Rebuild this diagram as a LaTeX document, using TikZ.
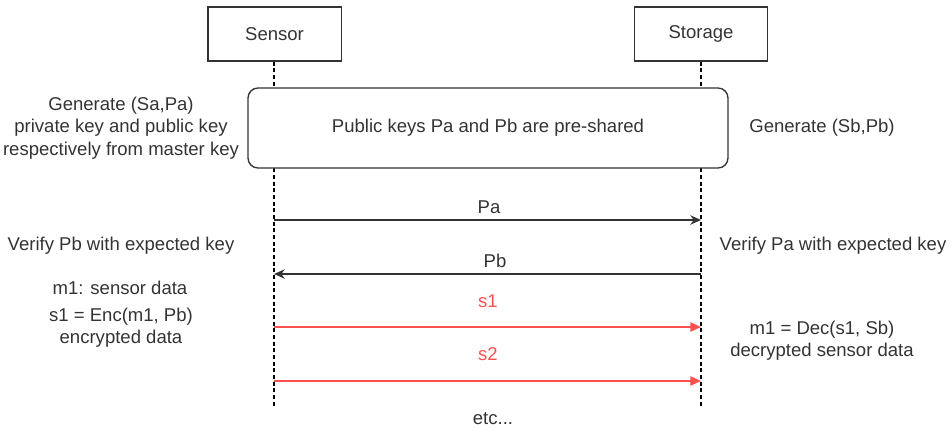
\documentclass[tikz,border=0pt]{standalone}
\usepackage{fontspec}
\setmainfont{Liberation Sans}
\usetikzlibrary{arrows.meta}
\definecolor{ink}{RGB}{51,51,51}
\definecolor{msgred}{RGB}{255,80,80}
\begin{document}
\begin{tikzpicture}[x=0.75pt,y=-0.75pt,
  font=\fontsize{13.9pt}{16.7pt}\selectfont, text=ink,
  actor/.style={draw=ink, line width=1pt, minimum width=100pt, minimum height=40.5pt, inner sep=0pt},
  lifeline/.style={draw=black, line width=0.8pt, dash pattern=on 3pt off 2pt},
  note/.style={align=center, inner sep=0pt},
  msg/.style={draw=ink, line width=1.1pt, -{Stealth[length=8pt,width=7pt,inset=2.5pt]}},
  redmsg/.style={draw=msgred, line width=1.1pt, -{Triangle[length=8pt,width=7pt]}},
  redlabel/.style={text=msgred, inner sep=0pt}]
  \useasboundingbox (0,0) rectangle (952,433);

  % participants
  \node[actor] (sensor) at (274.5,34) {Sensor};
  \node[actor] (storage) at (701,34) {Storage};

  % lifelines
  \coordinate (sensorEnd) at (274,408);
  \coordinate (storageEnd) at (701,408);
  \draw[lifeline] (sensor.south -| sensorEnd) -- (sensorEnd);
  \draw[lifeline] (storage.south -| storageEnd) -- (storageEnd);

  % shared-key frame
  \node[draw=ink, line width=1pt, fill=white, rounded corners=7.5pt,
        minimum width=360pt, minimum height=60pt, inner sep=0pt]
        (shared) at (488,128) {Public keys Pa and Pb are pre-shared};

  % key generation notes
  \node[note] (genA) at (121,128) {Generate (Sa,Pa)\\private key and public key\\respectively from master key};
  \node[note] (genB) at (822,128) {Generate (Sb,Pb)};

  % key exchange
  \coordinate (paS) at (274,220);
  \coordinate (paT) at (701,220);
  \draw[msg] (paS) -- (paT);
  \node[inner sep=0pt] (paLbl) at (489,207) {Pa};

  \coordinate (pbS) at (701,274);
  \coordinate (pbT) at (274,274);
  \draw[msg] (pbS) -- (pbT);
  \node[inner sep=0pt] (pbLbl) at (495,261) {Pb};

  \node[note] (verB) at (121,246) {Verify Pb with expected key};
  \node[note] (verA) at (833,246) {Verify Pa with expected key};

  % encrypted data
  \node[note] (m1) at (120,288) {m1: sensor data};
  \node[note] (enc) at (121,328) {s1 = Enc(m1, Pb)\\encrypted data};
  \node[note] (dec) at (822,341) {m1 = Dec(s1, Sb)\\decrypted sensor data};

  \coordinate (s1S) at (274,327);
  \coordinate (s1T) at (701,327);
  \draw[redmsg] (s1S) -- (s1T);
  \node[redlabel] (s1Lbl) at (488,301) {s1};

  \coordinate (s2S) at (274,381);
  \coordinate (s2T) at (701,381);
  \draw[redmsg] (s2S) -- (s2T);
  \node[redlabel] (s2Lbl) at (488,354) {s2};

  \node[inner sep=0pt] (etc) at (493,419) {etc...};
\end{tikzpicture}
\end{document}
